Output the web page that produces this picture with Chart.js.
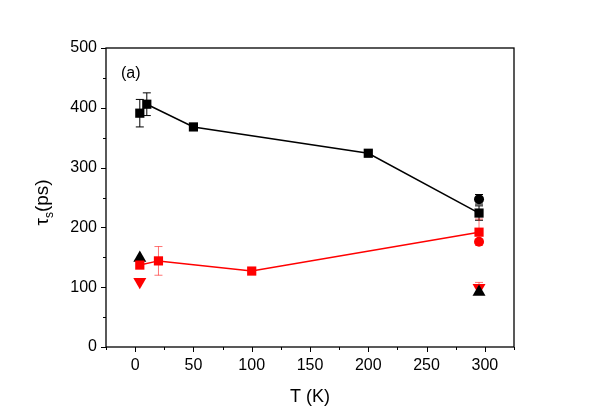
<!DOCTYPE html>
<html><head><meta charset="utf-8">
<script src="https://cdn.jsdelivr.net/npm/chart.js@4/dist/chart.umd.min.js"></script>
<style>html,body{margin:0;padding:0;background:#fff}#wrap{width:598px;height:417px}</style>
</head><body><div id="wrap"><canvas id="c" width="598" height="417"></canvas></div>
<script>
// data
const blackT = [4, 10, 50, 200, 295];
const blackTau = [391, 406, 368, 324, 224];
const blackErr = [23, 19, 5, 4, 12];
const redT = [4, 20, 100, 295];
const redTau = [137, 144, 127, 192];
const redErr = [0, 24, 3, 22];
const blackCircleT = [295];
const blackCircleTau = [247];
const blackCircleErr = [8];
const redCircleT = [295];
const redCircleTau = [176];
const upTriT = [4, 295];
const upTriTau = [149, 92];
const downTriT = [4, 295];
const downTriTau = [109, 99];
const downTriErr = [0, 9];
const xTicks = [0, 50, 100, 150, 200, 250, 300];
const yTicks = [0, 100, 200, 300, 400, 500];
const xMinor = [-25, 25, 75, 125, 175, 225, 275, 325];
const yMinor = [50, 150, 250, 350, 450];

const pts = (xs, ys, es) => xs.map((x, i) => ({x: x, y: ys[i], e: es ? es[i] : 0}));
const FONT = 'Liberation Sans, Arial, sans-serif';

const decor = {
  id: 'decor',
  beforeDatasetsDraw(chart) {
    const {ctx} = chart;
    const xs = chart.scales.x, ys = chart.scales.y;
    ctx.save();
    chart.data.datasets.forEach(ds => {
      if (!ds.errColor) return;
      ctx.strokeStyle = ds.errColor;
      ctx.lineWidth = 1;
      ds.data.forEach(p => {
        if (!p.e) return;
        const px = xs.getPixelForValue(p.x);
        const y1 = ys.getPixelForValue(p.y + p.e), y2 = ys.getPixelForValue(p.y - p.e);
        ctx.beginPath();
        ctx.moveTo(px, y1); ctx.lineTo(px, y2);
        ctx.moveTo(px - 4, y1); ctx.lineTo(px + 4, y1);
        ctx.moveTo(px - 4, y2); ctx.lineTo(px + 4, y2);
        ctx.stroke();
      });
    });
    ctx.restore();
  },
  afterDraw(chart) {
    const {ctx, chartArea: a} = chart;
    const xs = chart.scales.x, ys = chart.scales.y;
    ctx.save();
    ctx.strokeStyle = '#000';
    ctx.lineWidth = 1.3;
    ctx.strokeRect(a.left, a.top, a.right - a.left, a.bottom - a.top);
    ctx.lineWidth = 1;
    ctx.beginPath();
    xTicks.forEach(v => { const p = Math.round(xs.getPixelForValue(v)) + 0.5; ctx.moveTo(p, a.bottom); ctx.lineTo(p, a.bottom + 5); });
    xMinor.forEach(v => { const p = Math.round(xs.getPixelForValue(v)) + 0.5; ctx.moveTo(p, a.bottom); ctx.lineTo(p, a.bottom + 3); });
    yTicks.forEach(v => { const p = Math.round(ys.getPixelForValue(v)) + 0.5; ctx.moveTo(a.left, p); ctx.lineTo(a.left - 5, p); });
    yMinor.forEach(v => { const p = Math.round(ys.getPixelForValue(v)) + 0.5; ctx.moveTo(a.left, p); ctx.lineTo(a.left - 3, p); });
    ctx.stroke();
    ctx.fillStyle = '#000';
    ctx.font = '16px ' + FONT;
    ctx.textBaseline = 'alphabetic';
    ctx.textAlign = 'left';
    ctx.fillText('(a)', a.left + 15, a.top + 30);
    ctx.translate(48, (a.top + a.bottom) / 2 + 5);
    ctx.rotate(-Math.PI / 2);
    ctx.font = '19px ' + FONT;
    const w1 = ctx.measureText('τ').width;
    ctx.font = '12px ' + FONT;
    const w2 = ctx.measureText('s').width;
    ctx.font = '19px ' + FONT;
    const w3 = ctx.measureText('(ps)').width;
    let x0 = -(w1 + w2 + w3) / 2;
    ctx.fillText('τ', x0, 0);
    ctx.font = '12px ' + FONT;
    ctx.fillText('s', x0 + w1, 5);
    ctx.font = '19px ' + FONT;
    ctx.fillText('(ps)', x0 + w1 + w2, 0);
    ctx.restore();
  }
};

new Chart(document.getElementById('c'), {
  type: 'scatter',
  data: {
    datasets: [
      {data: pts(blackT, blackTau, blackErr), showLine: true, borderColor: '#000', backgroundColor: '#000', borderWidth: 1.5,
       pointStyle: 'rect', pointRadius: 6.5, pointBorderWidth: 0, errColor: '#000'},
      {data: pts(redT, redTau, redErr), showLine: true, borderColor: '#ff0000', backgroundColor: '#ff0000', borderWidth: 1.5,
       pointStyle: 'rect', pointRadius: 6.5, pointBorderWidth: 0, errColor: 'rgba(255,0,0,0.55)'},
      {data: pts(blackCircleT, blackCircleTau, blackCircleErr), backgroundColor: '#000', borderColor: '#000',
       pointStyle: 'circle', pointRadius: 5, pointBorderWidth: 0, errColor: '#000'},
      {data: pts(redCircleT, redCircleTau), backgroundColor: '#ff0000', borderColor: '#ff0000',
       pointStyle: 'circle', pointRadius: 5, pointBorderWidth: 0},
      {data: pts(upTriT, upTriTau), backgroundColor: '#000', borderColor: '#000',
       pointStyle: 'triangle', pointRadius: 7.5, pointBorderWidth: 0},
      {data: pts(downTriT, downTriTau, downTriErr), backgroundColor: '#ff0000', borderColor: '#ff0000',
       pointStyle: 'triangle', pointRotation: 180, pointRadius: 7.5, pointBorderWidth: 0, errColor: 'rgba(255,0,0,0.55)'}
    ]
  },
  options: {
    responsive: false,
    animation: false,
    layout: {padding: {top: 48, right: 84, left: 0, bottom: 0}},
    plugins: {legend: {display: false}, tooltip: {enabled: false}},
    scales: {
      x: {
        type: 'linear', min: -25, max: 325,
        afterBuildTicks: s => { s.ticks = xTicks.map(v => ({value: v})); },
        afterFit: s => { s.height = 70; },
        grid: {display: true, drawOnChartArea: false, drawTicks: true, tickLength: 5, color: 'rgba(0,0,0,0)'},
        border: {display: false},
        ticks: {color: '#000', font: {family: FONT, size: 16}, padding: 4, maxRotation: 0},
        title: {display: true, text: 'T (K)', color: '#000', font: {family: FONT, size: 18}, padding: {top: 0, bottom: 9}}
      },
      y: {
        type: 'linear', min: 0, max: 500,
        afterBuildTicks: s => { s.ticks = yTicks.map(v => ({value: v})); },
        afterFit: s => { s.width = 106; },
        grid: {display: true, drawOnChartArea: false, drawTicks: true, tickLength: 5, color: 'rgba(0,0,0,0)'},
        border: {display: false},
        ticks: {color: '#000', font: {family: FONT, size: 16}, padding: 4}
      }
    }
  },
  plugins: [decor]
});
</script>
</body></html>
